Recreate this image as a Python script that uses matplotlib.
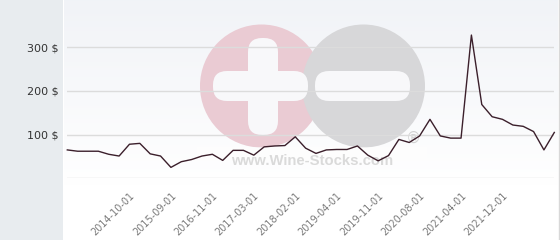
import numpy as np
import matplotlib
matplotlib.use("Agg")
import matplotlib.pyplot as plt
from matplotlib.patches import Circle, FancyBboxPatch, Rectangle

# ---- data ----
prices = [65, 62, 62, 62, 55, 51, 78, 80, 56, 51,
          25, 38, 43, 51, 55, 41, 64, 64, 53, 72,
          74, 75, 95, 69, 57, 65, 66, 66, 74, 53,
          40, 52, 89, 82, 97, 135, 97, 92, 92, 328,
          169, 141, 135, 122, 119, 107, 65, 105]
tick_labels = ["2014-10-01", "2015-09-01", "2016-11-01", "2017-03-01",
               "2018-02-01", "2019-04-01", "2019-11-01", "2020-08-01",
               "2021-04-01", "2021-12-01"]
first_tick, tick_step = 6, 4
y_ticks = [100, 200, 300]
y_tick_labels = ["100 $", "200 $", "300 $"]

W, H = 560, 240
fig = plt.figure(figsize=(W / 100, H / 100), dpi=100)
fig.patch.set_facecolor("white")

# left grey panel
fig.patches.append(Rectangle((0, 0), 63 / W, 1, transform=fig.transFigure,
                             facecolor="#e8ecef", edgecolor="none", zorder=0))

# plot-area gradient background (bluish grey at top, white from the baseline down)
bg = fig.add_axes([64 / W, 1 - 185 / H, (558 - 64) / W, 185 / H], zorder=0)
t = np.linspace(0, 1, 256)[:, None, None]          # 0 = bottom, 1 = top
bot = np.array([1.0, 1.0, 1.0])[None, None, :]
top = np.array([0.945, 0.953, 0.969])[None, None, :]
img = bot * (1 - t) + top * t
img = np.repeat(img, 2, axis=1)
bg.imshow(img, aspect="auto", extent=[0, 1, 0, 1], origin="lower",
          interpolation="bilinear")
bg.set_xlim(0, 1)
bg.set_ylim(0, 1)
bg.axis("off")
fig.lines.append(plt.Line2D([558.5 / W, 558.5 / W], [0, 1], transform=fig.transFigure,
                            color="#d8d8d8", lw=1))

# watermark (pixel coordinates)
wm = fig.add_axes([0, 0, 1, 1], zorder=0.5)
wm.set_xlim(0, W)
wm.set_ylim(H, 0)
wm.axis("off")
wm.add_patch(Circle((261.5, 86), 61.5, facecolor="#eacbd3", edgecolor="none"))
wm.add_patch(Circle((363.5, 86), 61.5, facecolor="#d7d7d9", edgecolor="none"))
wcol = "#f8f8fa"
wm.add_patch(FancyBboxPatch((263 - 1, 38 + 14), 2, 97 - 28,
                            boxstyle="round,pad=14", facecolor=wcol, edgecolor="none"))
wm.add_patch(FancyBboxPatch((213 + 14, 86 - 1), 95 - 28, 2,
                            boxstyle="round,pad=14", facecolor=wcol, edgecolor="none"))
wm.add_patch(FancyBboxPatch((315 + 14, 86 - 1), 95 - 28, 2,
                            boxstyle="round,pad=14", facecolor=wcol, edgecolor="none"))
wm.add_patch(Rectangle((197, 147), 230, 27, facecolor="white", edgecolor="none", alpha=0.35))
wm.text(312, 161, "www.Wine-Stocks.com", family="Liberation Sans", weight="bold",
        fontsize=10.7, color="#dadada", ha="center", va="center")
wm.text(414, 138, "\u00ae", family="DejaVu Sans", fontsize=11, color="#d2d2d2",
        ha="center", va="center")

# main axes
x0, x1 = 67.3, 554.3
ybot = 178.3
ppu = 0.4367
ymax = 385
ax = fig.add_axes([x0 / W, 1 - ybot / H, (x1 - x0) / W, ymax * ppu / H], zorder=1)
ax.patch.set_alpha(0)
x = np.arange(len(prices))
ax.plot(x, prices, color="#3b1f2b", lw=1.0, clip_on=False, zorder=3)
ax.set_xlim(0, len(prices) - 1)
ax.set_ylim(0, ymax)

for s in ax.spines.values():
    s.set_visible(False)
for v in [0] + y_ticks:
    ax.axhline(v, color="#dcdcdc", lw=1, zorder=1)

ax.set_yticks(y_ticks)
ax.set_yticklabels(y_tick_labels, fontsize=8, color="#333333")
ax.tick_params(axis="y", length=0, pad=6)

tpos = [first_tick + tick_step * i for i in range(len(tick_labels))]
ax.set_xticks(tpos)
ax.set_xticklabels(tick_labels, fontsize=7, color="#7a7a7a", rotation=45,
                   ha="right", va="top", rotation_mode="anchor")
ax.tick_params(axis="x", length=0, pad=9)

fig.savefig("out.png", dpi=100)
